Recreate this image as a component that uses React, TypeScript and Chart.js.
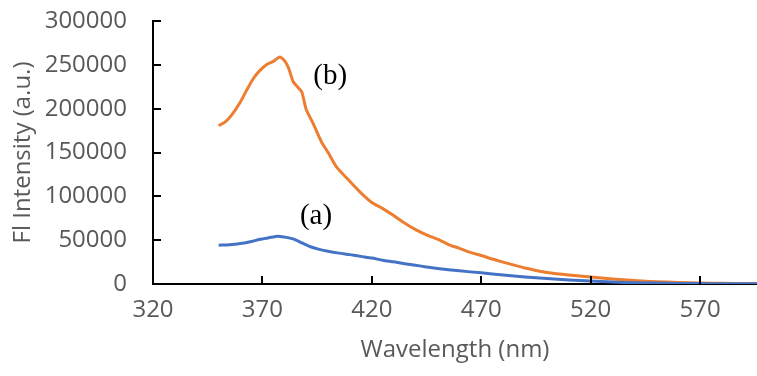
import React, { useEffect, useRef } from "react";
import { Chart, registerables } from "chart.js";

Chart.register(...registerables);

const wavelengthsB = [350, 353, 356, 360, 363, 366, 369, 372, 375, 378, 380, 382, 384, 386, 388, 390, 393, 397, 400, 404, 410, 415, 420, 425, 430, 434, 440, 445, 451, 455, 460, 465, 470, 475, 480, 485, 490, 495, 500, 510, 520, 530, 540, 550, 560, 570, 580, 590, 596];
const intensityB = [180600, 185000, 193000, 208000, 222000, 235000, 244000, 250500, 254000, 258800, 255000, 246000, 231000, 225000, 219000, 199000, 184000, 162000, 150000, 133000, 117000, 104000, 93000, 86000, 78000, 71000, 62000, 56000, 50000, 45000, 40700, 36000, 32500, 28500, 25000, 21500, 18200, 15500, 13200, 10300, 8000, 5700, 3900, 2700, 1800, 1200, 800, 500, 400];

const wavelengthsA = [350, 355, 360, 365, 369, 373, 377, 380, 384, 388, 392, 396, 400, 405, 410, 415, 420, 425, 430, 435, 440, 445, 450, 460, 470, 480, 490, 500, 510, 520, 530, 540, 550, 560, 570, 580, 596];
const intensityA = [44300, 44800, 46200, 48500, 51000, 52800, 54500, 53500, 51500, 47000, 42500, 39500, 37300, 35200, 33500, 31500, 29600, 27200, 25300, 23200, 21300, 19500, 17800, 15000, 12700, 10300, 8000, 6300, 4700, 3300, 2200, 1500, 1000, 700, 500, 350, 250];

const xTicks = [320, 370, 420, 470, 520, 570];
const yTicks = [0, 50000, 100000, 150000, 200000, 250000, 300000];

const labels = [
  { text: "(a)", x: 394.5, y: 77600 },
  { text: "(b)", x: 401, y: 237000 },
];

const tickFont = { family: "'Open Sans'", size: 24 };

export default function App() {
  const ref = useRef<HTMLCanvasElement | null>(null);
  useEffect(() => {
    const canvas = ref.current;
    if (!canvas) return;
    const innerTicks = {
      id: "innerTicks",
      afterDatasetsDraw(chart: any) {
        const { ctx, scales } = chart;
        const xs = scales.x;
        const ys = scales.y;
        ctx.save();
        ctx.strokeStyle = "#000";
        ctx.lineWidth = 2;
        ctx.beginPath();
        for (const v of xTicks) {
          const px = Math.round(xs.getPixelForValue(v));
          ctx.moveTo(px, ys.bottom);
          ctx.lineTo(px, ys.bottom - 8);
        }
        for (const v of yTicks) {
          const py = Math.round(ys.getPixelForValue(v));
          ctx.moveTo(xs.left, py);
          ctx.lineTo(xs.left + 8, py);
        }
        ctx.stroke();
        ctx.fillStyle = "#000";
        ctx.font = "29px 'Liberation Serif'";
        ctx.textAlign = "center";
        ctx.textBaseline = "middle";
        for (const l of labels) {
          ctx.fillText(l.text, xs.getPixelForValue(l.x), ys.getPixelForValue(l.y));
        }
        ctx.restore();
      },
    };
    const chart = new Chart(canvas, {
      type: "line",
      data: {
        datasets: [
          {
            label: "(a)",
            data: wavelengthsA.map((x, i) => ({ x, y: intensityA[i] })),
            borderColor: "#4472C4",
            borderWidth: 3,
            pointRadius: 0,
            tension: 0.2,
          },
          {
            label: "(b)",
            data: wavelengthsB.map((x, i) => ({ x, y: intensityB[i] })),
            borderColor: "#ED7D31",
            borderWidth: 3,
            pointRadius: 0,
            tension: 0.2,
          },
        ],
      },
      options: {
        responsive: false,
        animation: false,
        layout: { padding: { top: 21, right: 0, left: 0, bottom: 0 } },
        plugins: { legend: { display: false }, tooltip: { enabled: false } },
        scales: {
          x: {
            type: "linear",
            min: 320,
            max: 596,
            grid: { display: false, drawTicks: false },
            border: { display: true, color: "#000", width: 2 },
            afterBuildTicks: (s: any) => {
              s.ticks = xTicks.map((v) => ({ value: v }));
            },
            afterFit: (s: any) => {
              s.height = 92;
              s.paddingLeft = 0;
              s.paddingRight = 0;
            },
            ticks: { color: "#595959", font: tickFont, padding: 12, maxRotation: 0, autoSkip: false, callback: (v: any) => String(v) },
            title: {
              display: true,
              text: "Wavelength (nm)",
              color: "#595959",
              font: tickFont,
              padding: { top: 0, bottom: 11 },
            },
          },
          y: {
            type: "linear",
            min: 0,
            max: 300000,
            grid: { display: false, drawTicks: false },
            border: { display: true, color: "#000", width: 2 },
            afterBuildTicks: (s: any) => {
              s.ticks = yTicks.map((v) => ({ value: v }));
            },
            afterFit: (s: any) => {
              s.width = 153;
              s.paddingTop = 0;
              s.paddingBottom = 0;
            },
            ticks: { color: "#595959", font: tickFont, padding: 26, callback: (v: any) => String(v) },
            title: {
              display: true,
              text: "Fl Intensity (a.u.)",
              color: "#595959",
              font: tickFont,
              padding: { top: 9, bottom: 0 },
            },
          },
        },
      },
      plugins: [innerTicks],
    });
    return () => chart.destroy();
  }, []);
  return (
    <div style={{ position: "absolute", left: 0, top: 0, width: 757, height: 376, background: "#fff" }}>
      <canvas ref={ref} width={757} height={376} style={{ display: "block" }} />
    </div>
  );
}
